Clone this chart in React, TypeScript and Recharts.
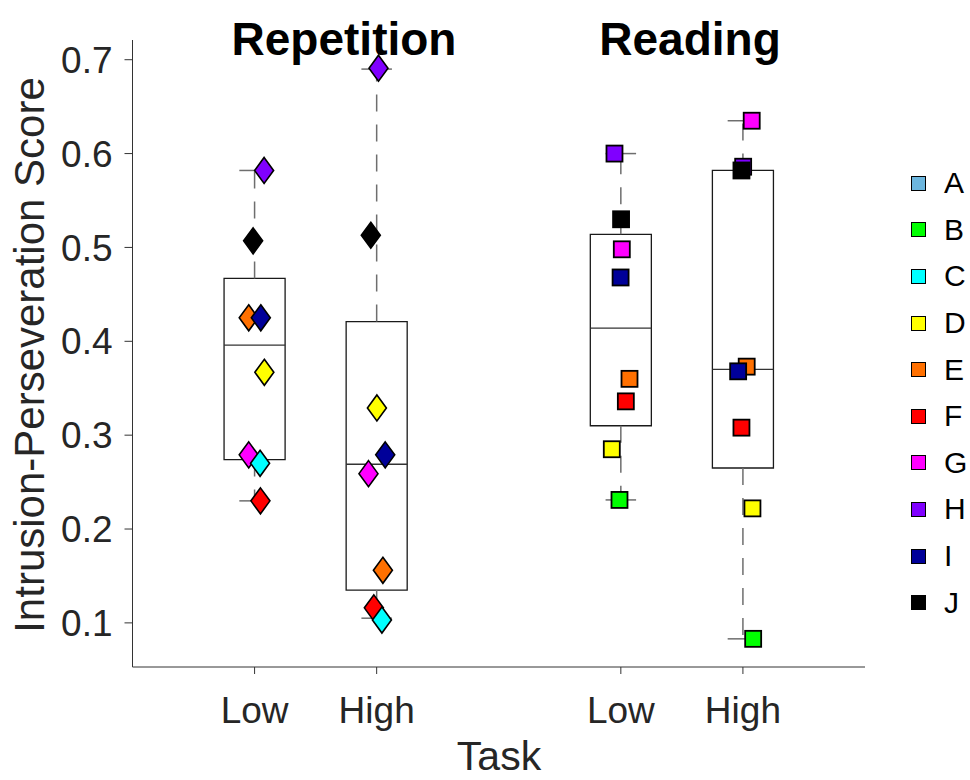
import React from 'react'
import {
  ComposedChart,
  Scatter,
  XAxis,
  YAxis,
  ReferenceArea,
  ReferenceLine,
  Legend,
} from 'recharts'

const PARTICIPANTS = ['A', 'B', 'C', 'D', 'E', 'F', 'G', 'H', 'I', 'J']
const PARTICIPANT_COLORS = [
  '#6cb6de', '#00ff00', '#00ffff', '#ffff00', '#ff7000',
  '#ff0000', '#ff00ff', '#8000ff', '#000099', '#000000',
]
// later participants sit on top where markers overlap
const DRAW_ORDER = ['A', 'B', 'D', 'E', 'F', 'G', 'H', 'C', 'I', 'J']

// groups along the x axis: Repetition Low/High, Reading Low/High
const GROUP_POSITIONS = [1, 2, 4, 5]
const GROUP_TASKS = ['rep', 'rep', 'read', 'read']
const GROUP_LABELS = ['Low', 'High', 'Low', 'High']

// scores, one entry per participant A..J (null = no score)
const REP_LOW = [null, null, 0.270, 0.367, 0.425, 0.230, 0.279, 0.582, 0.425, 0.507]
const REP_HIGH = [null, null, 0.103, 0.329, 0.156, 0.116, 0.259, 0.691, 0.279, 0.513]
const READ_LOW = [null, 0.231, null, 0.285, 0.360, 0.336, 0.498, 0.600, 0.468, 0.530]
const READ_HIGH = [null, 0.083, null, 0.222, 0.373, 0.308, 0.635, 0.586, 0.368, 0.582]

// horizontal jitter of each marker, in x-axis units
const REP_LOW_JITTER = [0, 0, 0.045, 0.080, -0.048, 0.048, -0.048, 0.078, 0.051, -0.012]
const REP_HIGH_JITTER = [0, 0, 0.043, 0.002, 0.051, -0.023, -0.067, 0.015, 0.070, -0.048]
const READ_LOW_JITTER = [0, -0.011, 0, -0.074, 0.071, 0.041, 0.008, -0.052, -0.002, 0.002]
const READ_HIGH_JITTER = [0, 0.084, 0, 0.078, 0.031, -0.012, 0.072, 0.002, -0.039, -0.012]

// box plot statistics per group
const BOX_Q1 = [0.274, 0.135, 0.310, 0.265]
const BOX_MEDIAN = [0.396, 0.269, 0.414, 0.370]
const BOX_Q3 = [0.467, 0.421, 0.514, 0.582]
const WHISKER_LOW = [0.230, 0.105, 0.231, 0.083]
const WHISKER_HIGH = [0.582, 0.690, 0.600, 0.635]

const Y_TICKS = [0.1, 0.2, 0.3, 0.4, 0.5, 0.6, 0.7]

const GROUP_SCORES = [REP_LOW, REP_HIGH, READ_LOW, READ_HIGH]
const GROUP_JITTER = [REP_LOW_JITTER, REP_HIGH_JITTER, READ_LOW_JITTER, READ_HIGH_JITTER]

const FONT = '"Liberation Sans", Arial, Helvetica, sans-serif'
const TEXT_COLOR = '#262626'
const BOX_HALF = 0.25
const CAP_HALF = 0.125

const participantData = (index: number) =>
  GROUP_SCORES.map((scores, g) => ({
    x: GROUP_POSITIONS[g] + GROUP_JITTER[g][index],
    y: scores[index],
    task: GROUP_TASKS[g],
  })).filter(d => d.y !== null)

const MarkerShape = (props: any) => {
  const { cx, cy, fill, payload } = props
  if (cx == null || cy == null) return null
  if (payload.task === 'rep') {
    return (
      <polygon
        points={`${cx},${cy - 13} ${cx + 9.5},${cy} ${cx},${cy + 13} ${cx - 9.5},${cy}`}
        fill={fill}
        stroke="#000"
        strokeWidth={1.6}
      />
    )
  }
  return (
    <rect x={cx - 8} y={cy - 8} width={16} height={16} fill={fill} stroke="#000" strokeWidth={1.8} />
  )
}

const renderLegend = ({ payload }: any) => {
  const items = [...(payload || [])].sort((a, b) => String(a.value).localeCompare(String(b.value)))
  return (
    <div style={{ fontFamily: FONT }}>
      {items.map(item => (
        <div key={item.value} style={{ display: 'flex', alignItems: 'center', height: 46.6 }}>
          <span
            style={{
              display: 'inline-block',
              width: 13,
              height: 13,
              background: item.color,
              border: '1.5px solid #000',
              marginRight: 18,
            }}
          />
          <span style={{ fontSize: 30, color: '#000', lineHeight: 1 }}>{item.value}</span>
        </div>
      ))}
    </div>
  )
}

export default function App() {
  const axisColor = '#333'
  const whiskerColor = '#6e6e6e'

  return (
    <div style={{ position: 'absolute', left: 0, top: 0, width: 970, height: 780, background: '#fff' }}>
      <ComposedChart
        width={970}
        height={780}
        margin={{ top: 40, right: 105, bottom: 0, left: 0 }}
      >
        <XAxis
          type="number"
          dataKey="x"
          domain={[0, 6]}
          allowDataOverflow
          ticks={GROUP_POSITIONS}
          tickFormatter={(v: number) => GROUP_LABELS[GROUP_POSITIONS.indexOf(v)] ?? ''}
          height={113}
          stroke={axisColor}
          tickSize={7}
          tickMargin={23}
          tick={{ fontSize: 37, fill: TEXT_COLOR, fontFamily: FONT }}
        />
        <YAxis
          type="number"
          dataKey="y"
          domain={[0.053, 0.721]}
          allowDataOverflow
          ticks={Y_TICKS}
          tickFormatter={(v: number) => v.toFixed(1)}
          width={132.5}
          stroke={axisColor}
          tickSize={8}
          tickMargin={12}
          tick={{ fontSize: 37, fill: TEXT_COLOR, fontFamily: FONT }}
        />

        {GROUP_POSITIONS.map((pos, g) => (
          <ReferenceArea
            key={`box-${g}`}
            x1={pos - BOX_HALF}
            x2={pos + BOX_HALF}
            y1={BOX_Q1[g]}
            y2={BOX_Q3[g]}
            fill="none"
            stroke="#1a1a1a"
            strokeWidth={1.3}
            ifOverflow="visible"
          />
        ))}
        {GROUP_POSITIONS.map((pos, g) => (
          <ReferenceLine
            key={`med-${g}`}
            segment={[{ x: pos - BOX_HALF, y: BOX_MEDIAN[g] }, { x: pos + BOX_HALF, y: BOX_MEDIAN[g] }]}
            stroke="#333"
            strokeWidth={1.3}
            ifOverflow="visible"
          />
        ))}
        {GROUP_POSITIONS.map((pos, g) => (
          <ReferenceLine
            key={`wh-up-${g}`}
            segment={[{ x: pos, y: BOX_Q3[g] }, { x: pos, y: WHISKER_HIGH[g] }]}
            stroke={whiskerColor}
            strokeWidth={1.5}
            strokeDasharray="17 13"
            ifOverflow="visible"
          />
        ))}
        {GROUP_POSITIONS.map((pos, g) => (
          <ReferenceLine
            key={`wh-lo-${g}`}
            segment={[{ x: pos, y: BOX_Q1[g] }, { x: pos, y: WHISKER_LOW[g] }]}
            stroke={whiskerColor}
            strokeWidth={1.5}
            strokeDasharray="17 13"
            ifOverflow="visible"
          />
        ))}
        {GROUP_POSITIONS.map((pos, g) => (
          <ReferenceLine
            key={`cap-up-${g}`}
            segment={[{ x: pos - CAP_HALF, y: WHISKER_HIGH[g] }, { x: pos + CAP_HALF, y: WHISKER_HIGH[g] }]}
            stroke={whiskerColor}
            strokeWidth={1.5}
            ifOverflow="visible"
          />
        ))}
        {GROUP_POSITIONS.map((pos, g) => (
          <ReferenceLine
            key={`cap-lo-${g}`}
            segment={[{ x: pos - CAP_HALF, y: WHISKER_LOW[g] }, { x: pos + CAP_HALF, y: WHISKER_LOW[g] }]}
            stroke={whiskerColor}
            strokeWidth={1.5}
            ifOverflow="visible"
          />
        ))}

        {DRAW_ORDER.map(name => {
          const i = PARTICIPANTS.indexOf(name)
          return (
            <Scatter
              key={name}
              name={name}
              data={participantData(i)}
              fill={PARTICIPANT_COLORS[i]}
              shape={MarkerShape}
              isAnimationActive={false}
            />
          )
        })}

        <Legend
          layout="vertical"
          align="center"
          verticalAlign="middle"
          content={renderLegend}
          wrapperStyle={{ left: 911, top: 160, width: 60 }}
        />

        <text x={344} y={55} textAnchor="middle" fontSize={46} fontWeight="bold" fontFamily={FONT} fill="#000">
          Repetition
        </text>
        <text x={690} y={55} textAnchor="middle" fontSize={46} fontWeight="bold" fontFamily={FONT} fill="#000">
          Reading
        </text>
        <text
          transform="translate(44, 355) rotate(-90)"
          textAnchor="middle"
          fontSize={42}
          fontFamily={FONT}
          fill={TEXT_COLOR}
        >
          Intrusion-Perseveration Score
        </text>
        <text x={499} y={770} textAnchor="middle" fontSize={41} fontFamily={FONT} fill={TEXT_COLOR}>
          Task
        </text>
      </ComposedChart>
    </div>
  )
}
